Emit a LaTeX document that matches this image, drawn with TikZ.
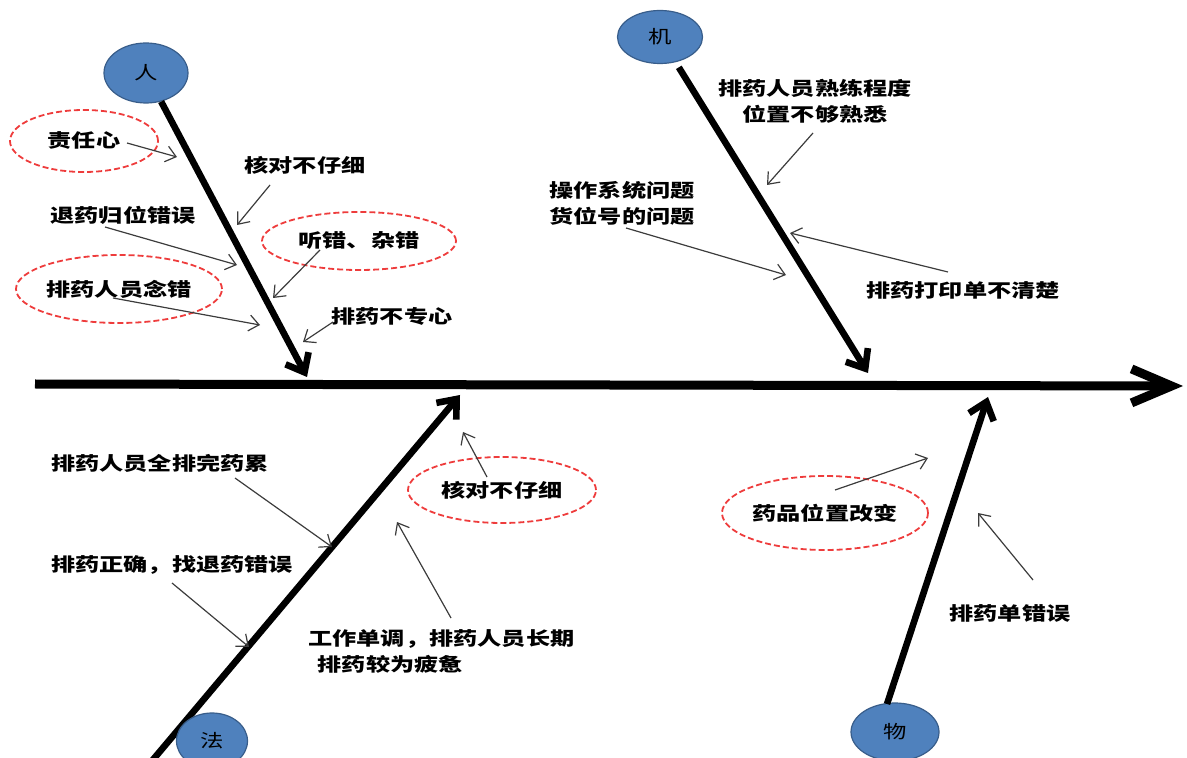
\documentclass[tikz,border=0pt]{standalone}
\usepackage{fontspec}
\newfontfamily\cjk[FakeStretch=1.3]{Noto Sans CJK SC}
\usetikzlibrary{arrows.meta}
\usetikzlibrary{shapes.geometric}
\definecolor{catblue}{RGB}{79,129,189}
\definecolor{catedge}{RGB}{56,93,138}
\definecolor{dashred}{RGB}{238,60,60}
\definecolor{arrgray}{RGB}{60,60,60}

\begin{document}
\begin{tikzpicture}[x=0.5pt, y=-0.5pt,
    every node/.style={font=\cjk\bfseries\fontsize{9.3}{13}\selectfont, inner sep=0pt, align=center},
    cat/.style={ellipse, fill=catblue, draw=catedge, line width=0.6pt, font=\cjk\fontsize{9}{11}\selectfont},
    redring/.style={ellipse, draw=dashred, line width=0.9pt, dash pattern=on 3pt off 1.5pt},
    bone/.style={line width=3.3pt, -{Straight Barb[length=8pt, width=13pt]}},
    spine/.style={line width=4.5pt, -{Straight Barb[length=20pt, width=17pt]}},
    cause/.style={draw=arrgray, line width=0.6pt, -{Straight Barb[length=5pt, width=8pt]}}]
    \useasboundingbox (0,0) rectangle (1187,758);
    \clip (0,0) rectangle (1187,758);

    % main line
    \coordinate (spL) at (35,384);
    \coordinate (spR) at (1183,386);
    \draw[spine] (spL) -- (spR);

    % categories
    \node[cat, minimum width=42pt, minimum height=30pt] (ren) at (146,73) {人};
    \node[cat, minimum width=42.5pt, minimum height=26.5pt] (ji) at (660,37) {机};
    \node[cat, minimum width=44pt, minimum height=29pt] (wu) at (895,732) {物};

    \coordinate (rentip) at (307,377);
    \coordinate (jitip) at (868,373);
    \coordinate (fabase) at (146,768);
    \coordinate (fatip) at (460,395);
    \coordinate (wubase) at (887,704);
    \coordinate (wutip) at (988,397);

    \draw[bone] (ren) -- (rentip);
    \draw[bone, shorten <=3pt] (ji) -- (jitip);
    \draw[bone] (fabase) -- (fatip);
    \draw[bone] (wubase) -- (wutip);
    \node[cat, minimum width=35.5pt, minimum height=28pt] (fa) at (212,741) {法};

    % causes: ren
    \node[redring, minimum width=74pt, minimum height=31pt] (r1) at (84,141) {责任心};
    \node (r2) at (305,165) {核对不仔细};
    \node (r3) at (123,215) {退药归位错误};
    \node[redring, minimum width=97pt, minimum height=29pt] (r4) at (359,241) {听错、杂错};
    \node[redring, minimum width=103pt, minimum height=34pt] (r5) at (119,289) {排药人员念错};
    \node (r6) at (392,316) {排药不专心};

    \coordinate (r1s) at (127,143); \coordinate (r1e) at (177,157);
    \coordinate (r2s) at (270,185); \coordinate (r2e) at (237,225);
    \coordinate (r3s) at (105,227); \coordinate (r3e) at (237,265);
    \coordinate (r4s) at (320,250); \coordinate (r4e) at (273,298);
    \coordinate (r5s) at (113,298); \coordinate (r5e) at (260,325);
    \coordinate (r6s) at (333,322); \coordinate (r6e) at (303,342);
    \draw[cause] (r1s) -- (r1e);
    \draw[cause] (r2s) -- (r2e);
    \draw[cause] (r3s) -- (r3e);
    \draw[cause] (r4s) -- (r4e);
    \draw[cause] (r5s) -- (r5e);
    \draw[cause] (r6s) -- (r6e);

    % causes: ji
    \node (j1) at (815,101) {排药人员熟练程度\\位置不够熟悉};
    \node (j2) at (622,203) {操作系统问题\\货位号的问题};
    \node (j3) at (963,290) {排药打印单不清楚};

    \coordinate (j1s) at (813,133); \coordinate (j1e) at (767,185);
    \coordinate (j2s) at (626,228); \coordinate (j2e) at (786,275);
    \coordinate (j3s) at (948,272); \coordinate (j3e) at (790,233);
    \draw[cause] (j1s) -- (j1e);
    \draw[cause] (j2s) -- (j2e);
    \draw[cause] (j3s) -- (j3e);

    % causes: fa
    \node (f1) at (160,463) {排药人员全排完药累};
    \node (f2) at (172,565) {排药正确，找退药错误};
    \node[redring, minimum width=94pt, minimum height=33pt] (f3) at (502,490) {核对不仔细};
    \node[anchor=west, align=left] (f4) at (308,651) {工作单调，排药人员长期\\\hspace{0.5em}排药较为疲惫};

    \coordinate (f1s) at (235,478); \coordinate (f1e) at (332,547);
    \coordinate (f2s) at (172,583); \coordinate (f2e) at (249,647);
    \coordinate (f3s) at (487,477); \coordinate (f3e) at (463,432);
    \coordinate (f4s) at (451,618); \coordinate (f4e) at (397,522);
    \draw[cause] (f1s) -- (f1e);
    \draw[cause] (f2s) -- (f2e);
    \draw[cause] (f3s) -- (f3e);
    \draw[cause] (f4s) -- (f4e);

    % causes: wu
    \node[redring, minimum width=103pt, minimum height=37pt] (w1) at (825,513) {药品位置改变};
    \node (w2) at (1010,613) {排药单错误};

    \coordinate (w1s) at (835,490); \coordinate (w1e) at (928,458);
    \coordinate (w2s) at (1033,580); \coordinate (w2e) at (978,513);
    \draw[cause] (w1s) -- (w1e);
    \draw[cause] (w2s) -- (w2e);
\end{tikzpicture}
\end{document}
